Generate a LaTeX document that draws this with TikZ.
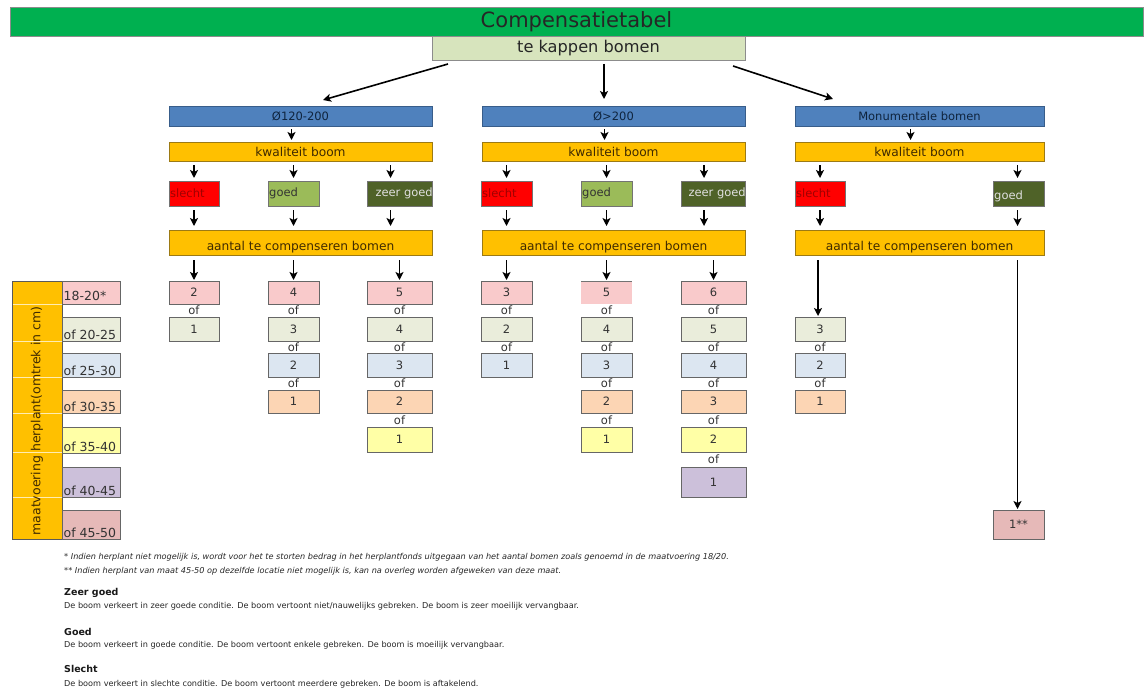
\documentclass[tikz,border=0pt]{standalone}
\usepackage{fontspec}
\setmainfont{DejaVu Sans}
\usetikzlibrary{arrows.meta}
\definecolor{tgreen}{HTML}{00B050}
\definecolor{tkfill}{HTML}{D7E4BD}
\definecolor{bfill}{HTML}{4F81BD}
\definecolor{bdraw}{HTML}{385D8A}
\definecolor{btext}{HTML}{0F243E}
\definecolor{ofill}{HTML}{FFC000}
\definecolor{odraw}{HTML}{9C7A14}
\definecolor{otext}{HTML}{3F2A00}
\definecolor{rfill}{HTML}{FF0000}
\definecolor{rtext}{HTML}{A00000}
\definecolor{gfill}{HTML}{9BBB59}
\definecolor{zfill}{HTML}{4F6228}
\definecolor{rA}{HTML}{F9CACB}
\definecolor{rB}{HTML}{EAEDDB}
\definecolor{rC}{HTML}{DCE6F1}
\definecolor{rD}{HTML}{FCD5B4}
\definecolor{rE}{HTML}{FFFFA6}
\definecolor{rF}{HTML}{CCC0DA}
\definecolor{rG}{HTML}{E6B9B8}
\definecolor{dtext}{HTML}{333333}
\newcommand{\BX}[7]{\node[#6, minimum width={(#4-#2)*1pt}, minimum height={(#5-#3)*1pt}] (#1) at ({(#2+#4)/2},{(#3+#5)/2}) {#7};}
\newcommand{\NB}[6]{\BX{#1}{#2}{#3}{#4}{#5}{numbox, fill=#6}{}}
\begin{document}
\begin{tikzpicture}[x=1pt,y=-1pt,
  box/.style={draw, line width=0.7pt, inner sep=0pt, outer sep=0pt},
  titlebox/.style={box, fill=tgreen, draw=black!45, font=\fontsize{21}{23}\selectfont, text=black!85},
  tkbox/.style={box, fill=tkfill, draw=black!45, font=\fontsize{16.2}{18}\selectfont, text=black!85},
  bluebox/.style={box, fill=bfill, draw=bdraw, font=\fontsize{11.5}{13}\selectfont, text=btext},
  orbox/.style={box, fill=ofill, draw=odraw, font=\fontsize{12.2}{14}\selectfont, text=otext},
  ortxt/.style={inner sep=0pt, font=\fontsize{12.2}{14}\selectfont, text=otext},
  redbox/.style={box, fill=rfill, draw=black!55},
  goedbox/.style={box, fill=gfill, draw=black!55},
  zeerbox/.style={box, fill=zfill, draw=black!55},
  numbox/.style={box, draw=black!60, font=\fontsize{11.5}{13}\selectfont, text=dtext},
  qtxt/.style={inner sep=1pt, anchor=west, font=\fontsize{11.5}{13}\selectfont},
  oftxt/.style={inner sep=0pt, font=\fontsize{11.5}{12}\selectfont, text=dtext},
  legtxt/.style={inner sep=1.5pt, anchor=south west, font=\fontsize{12.5}{14}\selectfont, text=dtext},
  foot/.style={inner sep=0pt, anchor=west, font=\fontsize{8.15}{9}\selectfont\itshape, text=black!85},
  desc/.style={inner sep=0pt, anchor=west, font=\fontsize{8.15}{9}\selectfont, text=black!85},
  head/.style={inner sep=0pt, anchor=west, font=\fontsize{9.5}{11}\selectfont\bfseries, text=black!90},
  arr/.style={-{Stealth[length=8pt,width=8pt,inset=2pt]}, line width=1.6pt, black},
]
\useasboundingbox (0,0) rectangle (1146,693);
\fill[white] (0,0) rectangle (1146,693);

% title and root
\BX{title}{10}{7}{1143}{36}{titlebox}{Compensatietabel}
\BX{tk}{432}{36}{745}{60}{tkbox}{te kappen bomen}

% category boxes
\BX{b1}{169}{106}{432}{126}{bluebox}{Ø120-200}
\BX{b2}{482}{106}{745}{126}{bluebox}{Ø>200}
\BX{b3}{795}{106}{1044}{126}{bluebox}{Monumentale bomen}

\BX{k1}{169}{142}{432}{161}{orbox}{kwaliteit boom}
\BX{k2}{482}{142}{745}{161}{orbox}{kwaliteit boom}
\BX{k3}{795}{142}{1044}{161}{orbox}{kwaliteit boom}

% quality boxes
\BX{q11}{169}{181}{219}{206}{redbox}{}
\BX{q12}{268}{181}{319}{206}{goedbox}{}
\BX{q13}{367}{181}{432}{206}{zeerbox}{}
\BX{q21}{481}{181}{532}{206}{redbox}{}
\BX{q22}{581}{181}{632}{206}{goedbox}{}
\BX{q23}{681}{181}{745}{206}{zeerbox}{}
\BX{q31}{795}{181}{845}{206}{redbox}{}
\BX{q32}{993}{181}{1044}{206}{zeerbox}{}
\node[qtxt, text=rtext] (q11t) at (q11.west) {slecht};
\node[qtxt, text=dtext] (q12t) at (q12.west) {goed};
\node[qtxt, text=black!12, anchor=east] (q13t) at ([xshift=2pt]q13.east) {zeer goed};
\node[qtxt, text=rtext] (q21t) at (q21.west) {slecht};
\node[qtxt, text=dtext] (q22t) at (q22.west) {goed};
\node[qtxt, text=black!12, anchor=east] (q23t) at ([xshift=2pt]q23.east) {zeer goed};
\node[qtxt, text=rtext] (q31t) at (q31.west) {slecht};
\node[qtxt, text=black!12] (q32t) at ([yshift=-3pt]q32.west) {goed};

% aantal boxes
\BX{a1}{169}{230}{432}{255}{orbox}{}
\BX{a2}{482}{230}{745}{255}{orbox}{}
\BX{a3}{795}{230}{1044}{255}{orbox}{}
\node[ortxt] (a1t) at ([yshift=-4.5pt]a1.center) {aantal te compenseren bomen};
\node[ortxt] (a2t) at ([yshift=-4.5pt]a2.center) {aantal te compenseren bomen};
\node[ortxt] (a3t) at ([yshift=-4.5pt]a3.center) {aantal te compenseren bomen};

% legend
\BX{leg}{12}{281}{62}{539}{box, fill=ofill, draw=black!65}{}
\foreach \yy in {304,341,377,413,452,497} \draw[white!70!ofill, line width=0.6pt] (12.5,\yy) -- (61.5,\yy);
\node[rotate=90, inner sep=0pt, font=\fontsize{12.5}{14}\selectfont, text=otext] (legt) at (37,421) {maatvoering herplant(omtrek in cm)};
\NB{l1}{62}{281}{120}{304}{rA}
\NB{l2}{62}{317}{120}{341}{rB}
\NB{l3}{62}{353}{120}{377}{rC}
\NB{l4}{62}{390}{120}{413}{rD}
\NB{l5}{62}{427}{120}{453}{rE}
\NB{l6}{62}{467}{120}{497}{rF}
\NB{l7}{62}{510}{120}{539}{rG}
\node[legtxt, anchor=west] (l1t) at ([yshift=-3pt]l1.west) {18-20*};
\node[legtxt] (l2t) at (l2.south west) {of 20-25};
\node[legtxt] (l3t) at (l3.south west) {of 25-30};
\node[legtxt] (l4t) at (l4.south west) {of 30-35};
\node[legtxt] (l5t) at (l5.south west) {of 35-40};
\node[legtxt] (l6t) at (l6.south west) {of 40-45};
\node[legtxt] (l7t) at (l7.south west) {of 45-50};

% number boxes: column 1
\BX{n111}{169}{281}{219}{304}{numbox, fill=rA}{2}
\BX{n112}{169}{317}{219}{341}{numbox, fill=rB}{1}
\BX{n121}{268}{281}{319}{304}{numbox, fill=rA}{4}
\BX{n122}{268}{317}{319}{341}{numbox, fill=rB}{3}
\BX{n123}{268}{353}{319}{377}{numbox, fill=rC}{2}
\BX{n124}{268}{390}{319}{413}{numbox, fill=rD}{1}
\BX{n131}{367}{281}{432}{304}{numbox, fill=rA}{5}
\BX{n132}{367}{317}{432}{341}{numbox, fill=rB}{4}
\BX{n133}{367}{353}{432}{377}{numbox, fill=rC}{3}
\BX{n134}{367}{390}{432}{413}{numbox, fill=rD}{2}
\BX{n135}{367}{427}{432}{452}{numbox, fill=rE}{1}
% column 2
\BX{n211}{481}{281}{532}{304}{numbox, fill=rA}{3}
\BX{n212}{481}{317}{532}{341}{numbox, fill=rB}{2}
\BX{n213}{481}{353}{532}{377}{numbox, fill=rC}{1}
\BX{n221}{581}{281}{632}{304}{numbox, fill=rA, draw=none}{5}
\draw[black!55, line width=0.7pt] (n221.north west) -- (n221.north east);
\BX{n222}{581}{317}{632}{341}{numbox, fill=rB}{4}
\BX{n223}{581}{353}{632}{377}{numbox, fill=rC}{3}
\BX{n224}{581}{390}{632}{413}{numbox, fill=rD}{2}
\BX{n225}{581}{427}{632}{452}{numbox, fill=rE}{1}
\BX{n231}{681}{281}{746}{304}{numbox, fill=rA}{6}
\BX{n232}{681}{317}{746}{341}{numbox, fill=rB}{5}
\BX{n233}{681}{353}{746}{377}{numbox, fill=rC}{4}
\BX{n234}{681}{390}{746}{413}{numbox, fill=rD}{3}
\BX{n235}{681}{427}{746}{452}{numbox, fill=rE}{2}
\BX{n236}{681}{467}{746}{497}{numbox, fill=rF}{1}
% column 3
\BX{n312}{795}{317}{845}{341}{numbox, fill=rB}{3}
\BX{n313}{795}{353}{845}{377}{numbox, fill=rC}{2}
\BX{n314}{795}{390}{845}{413}{numbox, fill=rD}{1}
\BX{n327}{993}{510}{1044}{539}{numbox, fill=rG}{1**}

% "of" labels
\foreach \cx/\nm in {194/a,293.5/b,399.5/c,506.5/d,606.5/e,713.5/f}{
  \node[oftxt] (of\nm1) at (\cx,310.5) {of};
}
\foreach \cx/\nm in {293.5/b,399.5/c,506.5/d,606.5/e,713.5/f,820/g}{
  \node[oftxt] (of\nm2) at (\cx,347) {of};
}
\foreach \cx/\nm in {293.5/b,399.5/c,606.5/e,713.5/f,820/g}{
  \node[oftxt] (of\nm3) at (\cx,383.5) {of};
}
\foreach \cx/\nm in {399.5/c,606.5/e,713.5/f}{
  \node[oftxt] (of\nm4) at (\cx,420) {of};
}
\node[oftxt] (off5) at (713.5,459.5) {of};

% arrows from root
\draw[arr] ([shift={(16,4)}]tk.south west) -- ([shift={(154,-6)}]b1.north west);
\draw[arr] ([shift={(172,4)}]tk.south west) -- ([shift={(122,-7)}]b2.north west);
\draw[arr] ([shift={(-12,6)}]tk.south east) -- ([shift={(38,-7)}]b3.north west);

% category -> kwaliteit
\foreach \i in {1,2,3}{
  \draw[arr, shorten <=3pt, shorten >=2pt] ([xshift=-9pt]b\i.south) -- ([xshift=-9pt]k\i.north);
}
% kwaliteit -> quality -> aantal
\foreach \k/\q in {1/11,1/12,2/21,2/22,3/31}{
  \draw[arr, shorten <=4pt, shorten >=3pt] (k\k.south -| q\q) -- (q\q.north);
  \draw[arr, shorten <=4pt, shorten >=4pt] (q\q.south) -- (a\k.north -| q\q);
}
\foreach \k/\q in {1/13,2/23}{
  \draw[arr, shorten <=4pt, shorten >=3pt] ([xshift=-9pt]k\k.south -| q\q) -- ([xshift=-9pt]q\q.north);
  \draw[arr, shorten <=4pt, shorten >=4pt] ([xshift=-9pt]q\q.south) -- ([xshift=-9pt]a\k.north -| q\q);
}
\draw[arr, shorten <=4pt, shorten >=3pt] ([xshift=-1pt]k3.south -| q32) -- ([xshift=-1pt]q32.north);
\draw[arr, shorten <=4pt, shorten >=4pt] ([xshift=-1pt]q32.south) -- ([xshift=-1pt]a3.north -| q32);

% aantal -> numbers
\foreach \k/\n in {1/n111,1/n121,1/n131,2/n211,2/n221,2/n231}{
  \draw[arr, shorten <=5pt, shorten >=1pt] (a\k.south -| \n) -- (\n.north);
}
\draw[arr, shorten <=5pt, shorten >=1pt] ([xshift=-2pt]a3.south -| n312) -- ([xshift=-2pt]n312.north);
\draw[arr, shorten <=5pt, shorten >=1pt] ([xshift=-1pt]a3.south -| n327) -- ([xshift=-1pt]n327.north);

% footnotes
\node[foot] (f1) at (64,557) {* Indien herplant niet mogelijk is, wordt voor het te storten bedrag in het herplantfonds uitgegaan van het aantal bomen zoals genoemd in de maatvoering 18/20.};
\node[foot] (f2) at (64,571) {** Indien herplant van maat 45-50 op dezelfde locatie niet mogelijk is, kan na overleg worden afgeweken van deze maat.};
\node[head] (h1) at (64,593) {Zeer goed};
\node[desc] (d1) at (64,606) {De boom verkeert in zeer goede conditie. De boom vertoont niet/nauwelijks gebreken. De boom is zeer moeilijk vervangbaar.};
\node[head] (h2) at (64,632) {Goed};
\node[desc] (d2) at (64,645) {De boom verkeert in goede conditie. De boom vertoont enkele gebreken. De boom is moeilijk vervangbaar.};
\node[head] (h3) at (64,669) {Slecht};
\node[desc] (d3) at (64,684) {De boom verkeert in slechte conditie. De boom vertoont meerdere gebreken. De boom is aftakelend.};
\end{tikzpicture}
\end{document}
